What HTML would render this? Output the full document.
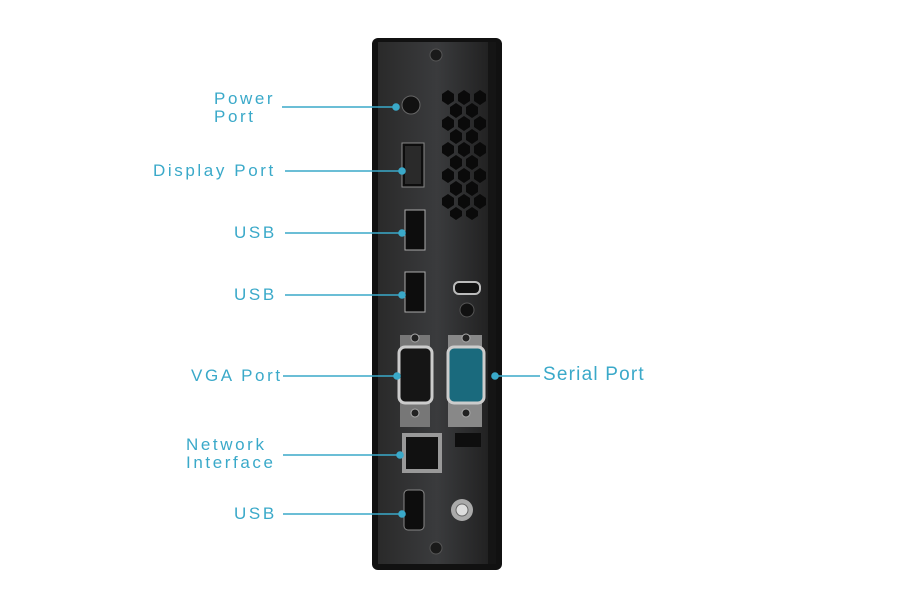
<!DOCTYPE html>
<html><head><style>
body{margin:0;width:900px;height:600px;background:#fff;position:relative;overflow:hidden;font-family:"Liberation Sans",sans-serif}
.l{position:absolute;color:#3aa9c9;font-size:17px;letter-spacing:2.6px;line-height:18px}
</style></head><body>
<svg width="900" height="600" style="position:absolute;left:0;top:0">
<defs><linearGradient id="c" x1="0" x2="1"><stop offset="0" stop-color="#2a2a2a"/><stop offset="0.5" stop-color="#3a3b3d"/><stop offset="1" stop-color="#1e1e1e"/></linearGradient></defs>
<rect x="372" y="38" width="130" height="532" rx="6" fill="#111"/>
<rect x="378" y="42" width="118" height="522" fill="url(#c)"/>
<rect x="488" y="42" width="8" height="522" fill="#151515"/>
<circle cx="436" cy="55" r="6" fill="#1a1a1a" stroke="#555"/>
<circle cx="436" cy="548" r="6" fill="#1a1a1a" stroke="#555"/>
<circle cx="411" cy="105" r="9" fill="#111" stroke="#666"/>
<rect x="402" y="143" width="22" height="44" fill="#0d0d0d" stroke="#888"/>
<rect x="405" y="146" width="16" height="38" fill="#2a2a2a"/>
<rect x="405" y="210" width="20" height="40" fill="#0d0d0d" stroke="#aaa"/>
<rect x="405" y="272" width="20" height="40" fill="#0d0d0d" stroke="#aaa"/>
<rect x="454" y="282" width="26" height="12" rx="5" fill="#111" stroke="#bbb" stroke-width="2"/>
<circle cx="467" cy="310" r="7" fill="#111" stroke="#555"/>
<g fill="#0a0a0a">
<polygon points="442,94 448,90 454,94 454,101 448,105 442,101"/><polygon points="458,94 464,90 470,94 470,101 464,105 458,101"/><polygon points="474,94 480,90 486,94 486,101 480,105 474,101"/>
<polygon points="450,107 456,103 462,107 462,114 456,118 450,114"/><polygon points="466,107 472,103 478,107 478,114 472,118 466,114"/>
<polygon points="442,120 448,116 454,120 454,127 448,131 442,127"/><polygon points="458,120 464,116 470,120 470,127 464,131 458,127"/><polygon points="474,120 480,116 486,120 486,127 480,131 474,127"/>
<polygon points="450,133 456,129 462,133 462,140 456,144 450,140"/><polygon points="466,133 472,129 478,133 478,140 472,144 466,140"/>
<polygon points="442,146 448,142 454,146 454,153 448,157 442,153"/><polygon points="458,146 464,142 470,146 470,153 464,157 458,153"/><polygon points="474,146 480,142 486,146 486,153 480,157 474,153"/>
<polygon points="450,159 456,155 462,159 462,166 456,170 450,166"/><polygon points="466,159 472,155 478,159 478,166 472,170 466,166"/>
<polygon points="442,172 448,168 454,172 454,179 448,183 442,179"/><polygon points="458,172 464,168 470,172 470,179 464,183 458,179"/><polygon points="474,172 480,168 486,172 486,179 480,183 474,179"/>
<polygon points="450,185 456,181 462,185 462,192 456,196 450,192"/><polygon points="466,185 472,181 478,185 478,192 472,196 466,192"/>
<polygon points="442,198 448,194 454,198 454,205 448,209 442,205"/><polygon points="458,198 464,194 470,198 470,205 464,209 458,205"/><polygon points="474,198 480,194 486,198 486,205 480,209 474,205"/>
<polygon points="450,211 456,207 462,211 462,216 456,220 450,216"/><polygon points="466,211 472,207 478,211 478,216 472,220 466,216"/>
</g>
<path d="M400,335 h30 v92 h-30z" fill="#777"/>
<rect x="399" y="347" width="33" height="56" rx="6" fill="#151515" stroke="#ccc" stroke-width="3"/>
<circle cx="415" cy="338" r="4" fill="#222" stroke="#aaa"/><circle cx="415" cy="413" r="4" fill="#222" stroke="#aaa"/>
<path d="M448,335 h34 v92 h-34z" fill="#888"/>
<rect x="448" y="347" width="36" height="56" rx="6" fill="#1a6a7d" stroke="#ccc" stroke-width="3"/>
<circle cx="466" cy="338" r="4" fill="#222" stroke="#aaa"/><circle cx="466" cy="413" r="4" fill="#222" stroke="#aaa"/>
<rect x="402" y="433" width="40" height="40" fill="#999"/>
<rect x="406" y="437" width="32" height="32" fill="#111"/>
<rect x="455" y="433" width="26" height="14" fill="#0e0e0e"/>
<rect x="404" y="490" width="20" height="40" rx="4" fill="#0d0d0d" stroke="#888"/>
<circle cx="462" cy="510" r="11" fill="#aaa"/><circle cx="462" cy="510" r="6" fill="#ddd" stroke="#666"/>
<g stroke="#3aa9c9" stroke-width="1.6" fill="#3aa9c9">
<line x1="282" y1="107" x2="396" y2="107"/><circle cx="396" cy="107" r="3"/>
<line x1="285" y1="171" x2="402" y2="171"/><circle cx="402" cy="171" r="3"/>
<line x1="285" y1="233" x2="402" y2="233"/><circle cx="402" cy="233" r="3"/>
<line x1="285" y1="295" x2="402" y2="295"/><circle cx="402" cy="295" r="3"/>
<line x1="283" y1="376" x2="397" y2="376"/><circle cx="397" cy="376" r="3"/>
<line x1="283" y1="455" x2="400" y2="455"/><circle cx="400" cy="455" r="3"/>
<line x1="283" y1="514" x2="402" y2="514"/><circle cx="402" cy="514" r="3"/>
<line x1="495" y1="376" x2="540" y2="376"/><circle cx="495" cy="376" r="3"/>
</g>
</svg>
<div class="l" style="left:214px;top:90px">Power<br>Port</div>
<div class="l" style="left:153px;top:162px">Display Port</div>
<div class="l" style="left:234px;top:224px">USB</div>
<div class="l" style="left:234px;top:286px">USB</div>
<div class="l" style="left:191px;top:367px">VGA Port</div>
<div class="l" style="left:186px;top:436px">Network<br>Interface</div>
<div class="l" style="left:234px;top:505px">USB</div>
<div class="l" style="left:543px;top:366px;font-size:19px;letter-spacing:1.2px">Serial Port</div>
</body></html>
